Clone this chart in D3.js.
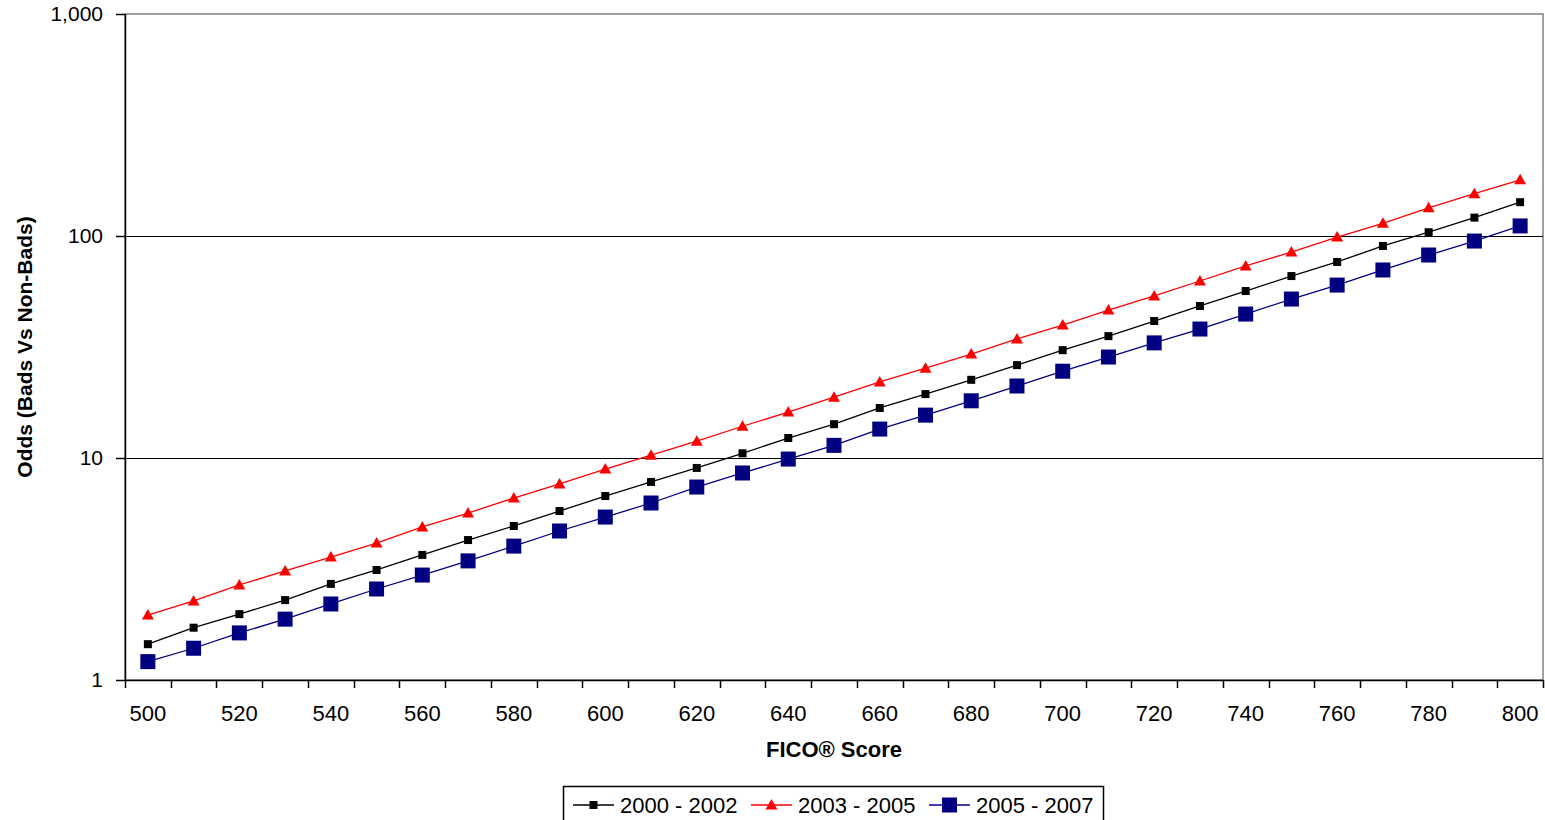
<!DOCTYPE html>
<html><head><meta charset="utf-8">
<script src="https://cdn.jsdelivr.net/npm/d3@7"></script>
<style>body{margin:0;background:#fff;}svg{display:block;font-family:"Liberation Sans",Arial,sans-serif;}</style>
</head><body><svg id="c" width="1545" height="820"></svg>
<script>
const scores = [500,510,520,530,540,550,560,570,580,590,600,610,620,630,640,650,660,670,680,690,700,710,720,730,740,750,760,770,780,790,800];
const s2000 = [1.45,1.72,1.98,2.29,2.71,3.13,3.66,4.27,4.94,5.77,6.74,7.80,9.02,10.5,12.3,14.2,16.8,19.4,22.5,26.2,30.6,35.4,41.4,48.4,56.5,66.0,76.4,90.2,104,121,142];
const s2003 = [1.96,2.27,2.68,3.10,3.58,4.14,4.89,5.65,6.60,7.64,8.92,10.3,11.9,13.9,16.1,18.8,22.0,25.4,29.4,34.4,39.7,46.4,53.7,62.7,73.3,84.7,98.9,114,134,155,179];
const s2005 = [1.21,1.39,1.63,1.88,2.20,2.57,2.97,3.44,4.01,4.69,5.42,6.27,7.40,8.56,9.89,11.4,13.5,15.6,18.1,21.1,24.6,28.5,33.0,38.1,44.5,52.0,60.1,70.3,82.1,94.9,111];
const seriesNames = ["2000 - 2002","2003 - 2005","2005 - 2007"];
const yTicks = [1,10,100,1000];
const xLabels = scores.filter((d,i)=>i%2===0);

const svg = d3.select("#c");
const L=125,R=1543,T=14,B=680;
const x = d3.scaleBand().domain(scores).range([L,R]).padding(0);
const y = d3.scaleLog().domain([1,1000]).range([B,T]);
const cx = d => x(d)+x.bandwidth()/2;

// plot border (grey) and gridlines
svg.append("rect").attr("x",L).attr("y",T).attr("width",R-L).attr("height",B-T)
  .attr("fill","none").attr("stroke","#808080").attr("stroke-width",1.5);
svg.selectAll("line.grid").data([10,100]).enter().append("line")
  .attr("x1",L).attr("x2",R).attr("y1",d=>Math.round(y(d))+0.5).attr("y2",d=>Math.round(y(d))+0.5)
  .attr("stroke","#000").attr("stroke-width",1.2);

// y axis
svg.append("line").attr("x1",L+0.5).attr("x2",L+0.5).attr("y1",T).attr("y2",B).attr("stroke","#000").attr("stroke-width",1.5);
svg.selectAll("line.yt").data(yTicks).enter().append("line")
  .attr("x1",L-9).attr("x2",L).attr("y1",d=>Math.round(y(d))+0.5).attr("y2",d=>Math.round(y(d))+0.5)
  .attr("stroke","#000").attr("stroke-width",1.5);
svg.selectAll("text.yl").data(yTicks).enter().append("text")
  .attr("x",L-22).attr("y",d=>y(d)).attr("dy","0.35em").attr("text-anchor","end")
  .attr("font-size",21).text(d=>d3.format(",")(d));

// x axis
svg.append("line").attr("x1",L).attr("x2",R).attr("y1",B+0.5).attr("y2",B+0.5).attr("stroke","#000").attr("stroke-width",1.5);
const bounds = scores.map(d=>x(d)).concat([R]);
svg.selectAll("line.xt").data(bounds).enter().append("line")
  .attr("x1",d=>Math.round(d)+0.5).attr("x2",d=>Math.round(d)+0.5).attr("y1",B).attr("y2",B+8)
  .attr("stroke","#000").attr("stroke-width",1.5);
svg.selectAll("text.xl").data(xLabels).enter().append("text")
  .attr("x",d=>cx(d)).attr("y",B+41).attr("text-anchor","middle").attr("font-size",22).text(d=>d);

// titles
svg.append("text").attr("x",(L+R)/2).attr("y",757).attr("text-anchor","middle")
  .attr("font-size",22).attr("font-weight","bold").text("FICO® Score");
svg.append("text").attr("transform",`translate(32,${(T+B)/2}) rotate(-90)`).attr("text-anchor","middle")
  .attr("font-size",21).attr("font-weight","bold").text("Odds (Bads Vs Non-Bads)");

// series
const line = d3.line().x((d,i)=>cx(scores[i])).y(d=>y(d));
const series = [
  {name:seriesNames[0], data:s2000, color:"#000000", marker:"square", size:8},
  {name:seriesNames[1], data:s2003, color:"#ff0000", marker:"triangle", size:10},
  {name:seriesNames[2], data:s2005, color:"#000080", marker:"square", size:15}
];
function drawMarker(g, m, px, py, color){
  if(m.marker==="square"){
    g.append("rect").attr("x",px-m.size/2).attr("y",py-m.size/2).attr("width",m.size).attr("height",m.size).attr("fill",color);
  } else {
    const s=m.size;
    g.append("path").attr("d",`M${px},${py-s*0.6}L${px+s*0.6},${py+s*0.45}L${px-s*0.6},${py+s*0.45}Z`).attr("fill",color);
  }
}
series.forEach(s=>{
  svg.append("path").datum(s.data).attr("d",line).attr("fill","none").attr("stroke",s.color).attr("stroke-width",1.3);
  const g = svg.append("g");
  s.data.forEach((v,i)=>drawMarker(g,s,cx(scores[i]),y(v),s.color));
});

// legend
svg.append("rect").attr("x",563.5).attr("y",786.5).attr("width",540).attr("height",40)
  .attr("fill","#fff").attr("stroke","#000").attr("stroke-width",1.5);
const legX=[573,751,929];
series.forEach((s,i)=>{
  const g=svg.append("g");
  const lx=legX[i], ly=805;
  g.append("line").attr("x1",lx).attr("x2",lx+41).attr("y1",ly).attr("y2",ly).attr("stroke",s.color).attr("stroke-width",1.3);
  drawMarker(g,s,lx+20.5,ly,s.color);
  g.append("text").attr("x",lx+47).attr("y",ly).attr("dy","0.35em").attr("font-size",22).text(s.name);
});
</script></body></html>
